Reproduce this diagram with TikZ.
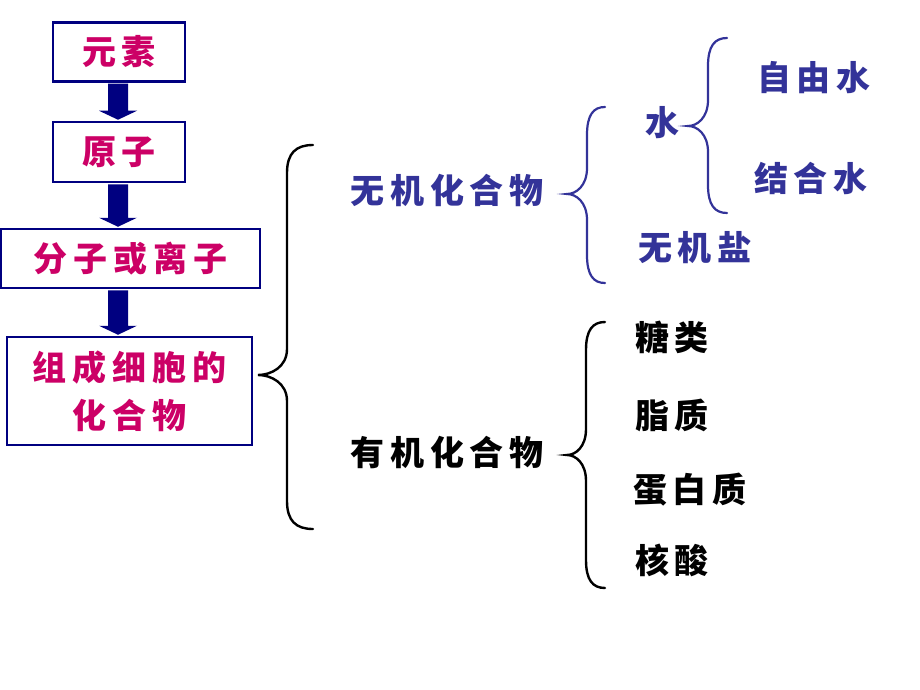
\documentclass[tikz,border=0pt]{standalone}
\usepackage{fontspec}
\newfontfamily\cjk{Noto Sans CJK SC}[LetterSpace=17]
\usetikzlibrary{calc}
\definecolor{navy}{HTML}{000080}
\definecolor{mag}{HTML}{CC0066}
\definecolor{txtblue}{HTML}{333399}
\newcommand\mybrace[7][]{%
 \draw[#1] (#2,#5) .. controls ({#3+0.35*(#2-#3)},#5) and (#3,{#5+8}) .. (#3,{#5+28})
   -- (#3,{#6-26}) .. controls (#3,{#6-8}) and ({#4+0.45*(#3-#4)},#6) .. (#4,#6)
   .. controls ({#4+0.45*(#3-#4)},#6) and (#3,{#6+8}) .. (#3,{#6+26})
   -- (#3,{#7-28}) .. controls (#3,{#7-8}) and ({#3+0.35*(#2-#3)},#7) .. (#2,#7);}
\begin{document}
\begin{tikzpicture}[x=1pt,y=-1pt,
 box/.style={draw=navy,line width=2.5pt,fill=white,inner sep=0pt,align=center,text=mag,
   font=\cjk\bfseries\fontsize{34}{48}\selectfont},
 lbl/.style={inner sep=0pt,font=\cjk\bfseries\fontsize{34}{40}\selectfont},
 bluetxt/.style={lbl,text=txtblue},
 blacktxt/.style={lbl,text=black},
 blackbrace/.style={draw=black,line width=2.4pt,line cap=round},
 bluebrace/.style={draw=txtblue,line width=2.2pt,line cap=round},
 blockarrow/.style={fill=navy}]
\useasboundingbox (0,0) rectangle (920,690);
\fill[white] (0,0) rectangle (920,690);
% boxes
\node[box,minimum width=132pt,minimum height=59pt] (b1) at (119,52) {元素};
\node[box,minimum width=132pt,minimum height=60pt] (b2) at (119,152) {原子};
\node[box,minimum width=259pt,minimum height=59pt] (b3) at (130.5,258.5) {分子或离子};
\node[box,minimum width=245pt,minimum height=108pt] (b4) at (129.5,391) {组成细胞的\\化合物};
\coordinate (ax) at (118,0);
% block arrows
\foreach \a/\b in {b1/b2,b2/b3,b3/b4}{
 \fill[blockarrow] ($(ax |- \a.south)+(-10,1)$) -- ($(ax |- \b.north)+(-10,-10)$) -- ($(ax |- \b.north)+(-19,-10)$)
   -- ($(ax |- \b.north)+(0,-1)$) -- ($(ax |- \b.north)+(19,-10)$) -- ($(ax |- \b.north)+(10,-10)$)
   -- ($(ax |- \a.south)+(10,1)$) -- cycle;}
% labels
\node[bluetxt] (inorg) at (447,190) {无机化合物};
\node[blacktxt] (org) at (447,453) {有机化合物};
\node[bluetxt] (water) at (662,123) {水};
\node[bluetxt] (free) at (814,78) {自由水};
\node[bluetxt] (bound) at (811,178) {结合水};
\node[bluetxt] (salt) at (695,248) {无机盐};
\node[blacktxt] (sugar) at (672,337) {糖类};
\node[blacktxt] (lipid) at (672,415) {脂质};
\node[blacktxt] (protein) at (690,490) {蛋白质};
\node[blacktxt] (nucleic) at (672,560) {核酸};
% braces
\mybrace[blackbrace]{313}{287}{258}{145}{375}{529}
\mybrace[bluebrace]{605}{587}{567}{107}{194}{283}
\mybrace[bluebrace]{727}{708}{688}{38}{126}{213}
\mybrace[blackbrace]{605}{586}{567}{322}{455}{588}
\end{tikzpicture}
\end{document}
